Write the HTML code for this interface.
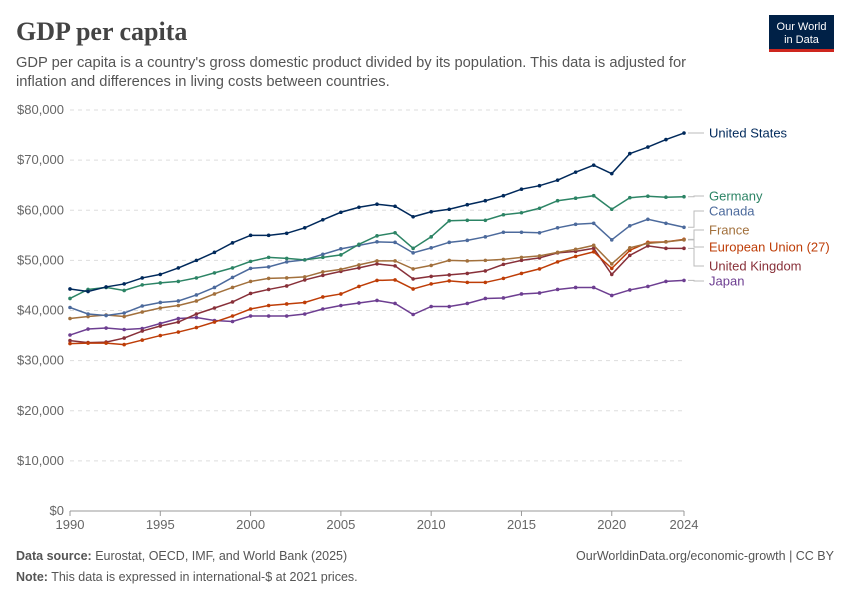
<!DOCTYPE html>
<html><head><meta charset="utf-8"><style>
body{margin:0;background:#fff;font-family:"Liberation Sans",sans-serif;}
#wrap{position:relative;width:850px;height:600px;overflow:hidden;}
</style></head><body>
<div id="wrap">
<svg id="svg" width="850" height="600" xmlns="http://www.w3.org/2000/svg">
<text x="16" y="40" font-family="Liberation Serif,serif" font-size="26" font-weight="bold" fill="#444">GDP per capita</text>
<text x="16" y="67" font-size="14.7" fill="#555">GDP per capita is a country's gross domestic product divided by its population. This data is adjusted for</text>
<text x="16" y="86" font-size="14.7" fill="#555">inflation and differences in living costs between countries.</text>
<g>
<rect x="769" y="15" width="65" height="37" fill="#002147"/>
<rect x="769" y="49" width="65" height="3" fill="#ce261e"/>
<text x="801.5" y="30" font-size="11" fill="#fff" text-anchor="middle">Our World</text>
<text x="801.5" y="43" font-size="11" fill="#fff" text-anchor="middle">in Data</text>
</g>
<g id="grid"></g><g id="lines"></g><g id="labels"></g>
<text x="16" y="560" font-size="12.5" fill="#555"><tspan font-weight="bold">Data source:</tspan> Eurostat, OECD, IMF, and World Bank (2025)</text>
<text x="834" y="560" font-size="12.5" fill="#555" text-anchor="end">OurWorldinData.org/economic-growth | CC BY</text>
<text x="16" y="581" font-size="12.5" fill="#555"><tspan font-weight="bold">Note:</tspan> This data is expressed in international-$ at 2021 prices.</text>
</svg>
</div>
<script>
const years=[];for(let y=1990;y<=2024;y++)years.push(y);
const usa=[44.3,43.8,44.7,45.3,46.5,47.2,48.5,50,51.6,53.5,55,55,55.4,56.5,58.1,59.6,60.6,61.2,60.8,58.7,59.7,60.2,61.1,61.9,62.9,64.2,64.9,66,67.6,69,67.3,71.3,72.6,74.1,75.4];
const germany=[42.4,44.2,44.6,44.0,45.1,45.5,45.8,46.5,47.5,48.5,49.8,50.6,50.4,50.1,50.6,51.1,53.2,54.9,55.5,52.4,54.7,57.9,58.0,58.0,59.1,59.5,60.4,61.9,62.4,62.9,60.2,62.5,62.8,62.6,62.7];
const canada=[40.6,39.3,39.0,39.5,40.9,41.6,41.9,43.1,44.6,46.6,48.4,48.7,49.7,50.1,51.2,52.3,53.0,53.7,53.6,51.5,52.5,53.6,54.0,54.7,55.6,55.6,55.5,56.5,57.2,57.4,54.1,56.9,58.2,57.4,56.6];
const france=[38.4,38.8,39.1,38.8,39.7,40.5,41.0,41.9,43.3,44.6,45.8,46.4,46.5,46.7,47.7,48.2,49.1,49.9,49.9,48.3,49.0,50.0,49.9,50.0,50.2,50.6,50.9,51.6,52.2,53.0,49.3,52.5,53.4,53.7,54.1];
const eu=[33.4,33.5,33.5,33.2,34.1,35.0,35.7,36.6,37.7,38.9,40.3,41.0,41.3,41.6,42.7,43.3,44.8,46.0,46.1,44.3,45.3,45.9,45.6,45.6,46.4,47.4,48.3,49.7,50.8,51.7,48.4,52.0,53.6,53.7,54.2];
const uk=[34.0,33.6,33.7,34.5,35.9,36.9,37.7,39.3,40.5,41.7,43.4,44.2,44.9,46.1,47.0,47.8,48.5,49.3,48.9,46.3,46.8,47.1,47.4,47.9,49.2,50.0,50.5,51.5,51.8,52.4,47.2,51.0,52.9,52.4,52.4];
const japan=[35.1,36.3,36.5,36.2,36.4,37.4,38.4,38.6,38.0,37.8,38.9,38.9,38.9,39.3,40.3,41.0,41.5,42.0,41.4,39.2,40.8,40.8,41.4,42.4,42.5,43.3,43.5,44.2,44.6,44.6,43.0,44.1,44.8,45.8,46.0];
const yTicks=[0,10,20,30,40,50,60,70,80];
const xTicks=[1990,1995,2000,2005,2010,2015,2020,2024];
const series=[
 {n:"United States",d:usa,c:"#00295b",ly:133},
 {n:"Germany",d:germany,c:"#2c8465",ly:196},
 {n:"Canada",d:canada,c:"#4c6a9c",ly:211},
 {n:"France",d:france,c:"#a2703c",ly:230},
 {n:"European Union (27)",d:eu,c:"#be3d07",ly:247},
 {n:"United Kingdom",d:uk,c:"#883039",ly:266},
 {n:"Japan",d:japan,c:"#6d3e91",ly:281}];
const NS="http://www.w3.org/2000/svg";
const X=y=>70+(y-1990)*(684-70)/34;
const Y=v=>511-v*(511-110)/80;
function mk(t,a,p){const e=document.createElementNS(NS,t);for(const k in a)e.setAttribute(k,a[k]);p.appendChild(e);return e;}
const grid=document.getElementById('grid');
yTicks.forEach(v=>{
 const l=mk('line',{x1:70,x2:684,y1:Y(v),y2:Y(v),stroke:v==0?'#999':'#ddd','stroke-dasharray':v==0?'':'4,4'},grid);
 
 
 const t=mk('text',{x:64,y:Y(v)+4,'font-size':13,fill:'#666','text-anchor':'end'},grid);
 t.textContent='$'+(v==0?'0':v+',000');
 
 
});
xTicks.forEach(v=>{
 mk('line',{x1:X(v),x2:X(v),y1:511,y2:516,stroke:'#999'},grid);
 const t=mk('text',{x:X(v),y:529,'font-size':13,fill:'#666','text-anchor':'middle'},grid);
 t.textContent=v;
 
 
});
const lines=document.getElementById('lines'),labels=document.getElementById('labels');
series.slice().reverse().forEach(s=>{
 const g=mk('g',{},lines);
 
 
 mk('polyline',{points:s.d.map((v,i)=>X(years[i])+','+Y(v)).join(' '),fill:'none',stroke:s.c,'stroke-width':1.5},g);
 s.d.forEach((v,i)=>{mk('circle',{cx:X(years[i]),cy:Y(v),r:1.8,fill:s.c},g);});
 const ey=Y(s.d[s.d.length-1]);
 mk('path',{d:`M688,${ey} H694 V${s.ly} H704`,fill:'none',stroke:'#bbb'},labels);
 const t=mk('text',{x:709,y:s.ly+4.5,'font-size':13,fill:s.c},labels);
 t.textContent=s.n;
 
 
});
</script>
</body></html>
